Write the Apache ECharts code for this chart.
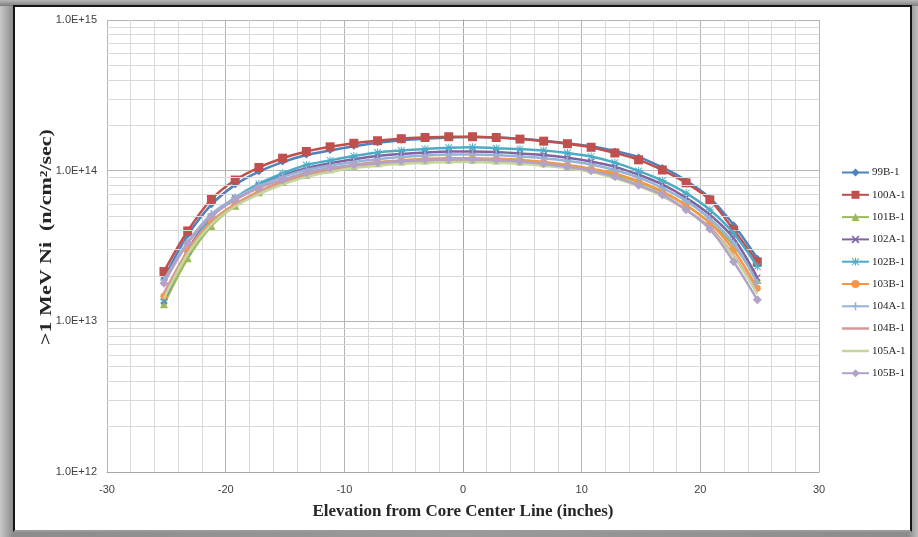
<!DOCTYPE html>
<html>
<head>
<meta charset="utf-8">
<title>Fast neutron flux vs elevation</title>
<script src="https://cdn.jsdelivr.net/npm/echarts@6/dist/echarts.min.js"></script>
<style>
  html, body { margin: 0; padding: 0; width: 918px; height: 537px; overflow: hidden; }
  #wrap { position: absolute; left: 0; top: 0; width: 918px; height: 537px;
    background: linear-gradient(to right, #c9c9c9 0px, #8c8c8c 13px, #9a9a9a 50%, #8c8c8c 908px, #bdbdbd 918px); }
  #topband { position: absolute; left: 0; top: 0; width: 918px; height: 6px;
    background: linear-gradient(to bottom, #b8b8b8, #7c7c7c); }
  #frame { position: absolute; left: 13px; top: 5px; width: 899px; height: 527px; box-sizing: border-box;
    background: #ffffff; border: 2px solid #151515; border-bottom-color: #9a9a9a; }
  #chart { position: absolute; left: 0; top: 0; width: 918px; height: 537px; }
</style>
</head>
<body>
<div id="wrap"><div id="topband"></div><div id="frame"></div></div>
<div id="chart"></div>
<script>
// Elevation of each measurement point (inches from core center line)
var elevations = [-25.2, -23.2, -21.2, -19.2, -17.2, -15.2, -13.2, -11.2, -9.2, -7.2, -5.2, -3.2, -1.2,
                  0.8, 2.8, 4.8, 6.8, 8.8, 10.8, 12.8, 14.8, 16.8, 18.8, 20.8, 22.8, 24.8];

// >1 MeV flux in nickel, n/cm^2/sec, one array per capsule position
var flux99B1  = [1.93e13, 3.72e13, 5.95e13, 8.05e13, 9.85e13, 1.14e14, 1.27e14, 1.36e14, 1.45e14, 1.53e14, 1.59e14, 1.63e14, 1.66e14,
                 1.67e14, 1.66e14, 1.63e14, 1.58e14, 1.52e14, 1.45e14, 1.35e14, 1.23e14, 1.05e14, 8.6e13, 6.6e13, 4.37e13, 2.62e13];
var flux100A1 = [2.14e13, 3.98e13, 6.46e13, 8.67e13, 1.05e14, 1.21e14, 1.34e14, 1.44e14, 1.52e14, 1.58e14, 1.63e14, 1.66e14, 1.68e14,
                 1.68e14, 1.66e14, 1.62e14, 1.57e14, 1.51e14, 1.43e14, 1.31e14, 1.18e14, 1.01e14, 8.3e13, 6.4e13, 4.05e13, 2.48e13];
var flux101B1 = [1.30e13, 2.62e13, 4.3e13, 5.85e13, 7.2e13, 8.4e13, 9.4e13, 1.02e14, 1.08e14, 1.12e14, 1.15e14, 1.17e14, 1.18e14,
                 1.18e14, 1.17e14, 1.15e14, 1.12e14, 1.08e14, 1.02e14, 9.4e13, 8.4e13, 7.2e13, 5.9e13, 4.5e13, 3.2e13, 1.88e13];
var flux102A1 = [1.36e13, 2.95e13, 4.95e13, 6.55e13, 8.0e13, 9.3e13, 1.04e14, 1.12e14, 1.19e14, 1.25e14, 1.29e14, 1.32e14, 1.34e14,
                 1.34e14, 1.33e14, 1.30e14, 1.27e14, 1.22e14, 1.15e14, 1.06e14, 9.4e13, 8.1e13, 6.6e13, 5.1e13, 3.56e13, 1.95e13];
var flux102B1 = [1.39e13, 2.9e13, 4.9e13, 6.6e13, 8.2e13, 9.6e13, 1.09e14, 1.17e14, 1.25e14, 1.32e14, 1.36e14, 1.39e14, 1.42e14,
                 1.43e14, 1.41e14, 1.39e14, 1.36e14, 1.31e14, 1.24e14, 1.13e14, 9.95e13, 8.6e13, 7.1e13, 5.5e13, 3.84e13, 2.31e13];
var flux103B1 = [1.47e13, 2.95e13, 4.6e13, 6.0e13, 7.3e13, 8.5e13, 9.5e13, 1.03e14, 1.09e14, 1.14e14, 1.17e14, 1.20e14, 1.21e14,
                 1.21e14, 1.20e14, 1.18e14, 1.14e14, 1.09e14, 1.03e14, 9.6e13, 8.5e13, 7.3e13, 5.9e13, 4.5e13, 2.97e13, 1.66e13];
var flux104A1 = [1.88e13, 3.35e13, 5.15e13, 6.6e13, 7.9e13, 9.1e13, 1.01e14, 1.08e14, 1.14e14, 1.19e14, 1.23e14, 1.26e14, 1.28e14,
                 1.28e14, 1.27e14, 1.24e14, 1.21e14, 1.16e14, 1.10e14, 1.01e14, 9.0e13, 7.7e13, 6.3e13, 4.8e13, 3.3e13, 1.8e13];
var flux104B1 = [1.54e13, 2.9e13, 4.5e13, 5.9e13, 7.2e13, 8.3e13, 9.3e13, 1.0e14, 1.06e14, 1.10e14, 1.13e14, 1.15e14, 1.16e14,
                 1.16e14, 1.15e14, 1.13e14, 1.09e14, 1.05e14, 9.9e13, 9.0e13, 8.0e13, 6.8e13, 5.5e13, 4.2e13, 2.75e13, 1.57e13];
var flux105A1 = [1.42e13, 2.8e13, 4.4e13, 5.8e13, 7.0e13, 8.1e13, 9.1e13, 9.8e13, 1.04e14, 1.08e14, 1.11e14, 1.13e14, 1.14e14,
                 1.14e14, 1.13e14, 1.11e14, 1.08e14, 1.04e14, 9.8e13, 8.9e13, 7.9e13, 6.8e13, 5.5e13, 4.1e13, 2.7e13, 1.52e13];
var flux105B1 = [1.79e13, 3.3e13, 5.0e13, 6.4e13, 7.7e13, 8.7e13, 9.7e13, 1.04e14, 1.09e14, 1.13e14, 1.16e14, 1.18e14, 1.19e14,
                 1.19e14, 1.18e14, 1.15e14, 1.11e14, 1.06e14, 1.0e14, 9.1e13, 8.0e13, 6.9e13, 5.5e13, 4.1e13, 2.49e13, 1.39e13];

var seriesNames = ['99B-1', '100A-1', '101B-1', '102A-1', '102B-1', '103B-1', '104A-1', '104B-1', '105A-1', '105B-1'];
var seriesValues = [flux99B1, flux100A1, flux101B1, flux102A1, flux102B1, flux103B1, flux104A1, flux104B1, flux105A1, flux105B1];

// Axis ranges and titles
var xMin = -30, xMax = 30, xStep = 10;
var yMin = 1e12, yMax = 1e15;
var xTitle = 'Elevation from Core Center Line (inches)';
var yTitle = '>1 MeV Ni  (n/cm\u00B2/sec)';

// Marker glyphs
var PLUS = 'path://M4,0H6V4H10V6H6V10H4V6H0V4H4Z';
var CROSS = 'path://M1.4,0L10,8.6L8.6,10L0,1.4Z M8.6,0L10,1.4L1.4,10L0,8.6Z';
var STAR = 'path://M4.4,0H5.6V4.4H10V5.6H5.6V10H4.4V5.6H0V4.4H4.4Z M1.2,0.4L9.6,8.8L8.8,9.6L0.4,1.2Z M8.8,0.4L9.6,1.2L1.2,9.6L0.4,8.8Z';
// Plain line legend key (tiny anchor dots keep the bar thin after scaling)
var LINE_KEY = 'path://M0,0H0.01V0.01H0Z M0,3.7H28V6.3H0Z M0,10H0.01V9.99H0Z';

var styles = [
  { color: '#4F81BD', symbol: 'diamond', size: 7 },
  { color: '#C0504D', symbol: 'rect', size: 9 },
  { color: '#9BBB59', symbol: 'triangle', size: 8 },
  { color: '#8064A2', symbol: CROSS, size: 7 },
  { color: '#4BACC6', symbol: STAR, size: 8 },
  { color: '#F79646', symbol: 'circle', size: 7 },
  { color: '#95B3D7', symbol: PLUS, size: 8 },
  { color: '#D99694', symbol: 'none', size: 0 },
  { color: '#C3D69B', symbol: 'none', size: 0 },
  { color: '#B3A2C7', symbol: 'diamond', size: 9 }
];

var serifFont = '"Liberation Serif", "DejaVu Serif", serif';
var tickFont = '"Liberation Sans Narrow", "Liberation Sans", "DejaVu Sans Condensed", sans-serif';

// Logarithmic minor gridlines (2..9 within each decade)
var minorLogLines = [];
for (var e = 12; e < 15; e++) {
  for (var m = 2; m <= 9; m++) minorLogLines.push({ yAxis: m * Math.pow(10, e) });
}

var series = [{
  name: 'grid-minor',
  type: 'line',
  data: [],
  silent: true,
  z: 1,
  markLine: {
    silent: true,
    symbol: ['none', 'none'],
    label: { show: false },
    animation: false,
    lineStyle: { color: '#d9d9d9', width: 1, type: 'solid' },
    data: minorLogLines
  }
}];

var legendData = [];
seriesNames.forEach(function (name, i) {
  var st = styles[i];
  legendData.push(st.symbol === 'none' ? { name: name, icon: LINE_KEY } : { name: name });
  series.push({
    name: name,
    type: 'line',
    z: 3 + i,
    smooth: 0.35,
    data: elevations.map(function (x, k) { return [x, seriesValues[i][k]]; }),
    symbol: st.symbol,
    symbolSize: st.size,
    showSymbol: st.symbol !== 'none',
    lineStyle: { color: st.color, width: 2.5 },
    itemStyle: { color: st.color, borderWidth: 0 },
    emphasis: { disabled: true },
    animation: false
  });
});

var chart = echarts.init(document.getElementById('chart'), null, { renderer: 'canvas' });
chart.setOption({
  backgroundColor: 'transparent',
  animation: false,
  grid: { left: 107, right: 99, top: 20, bottom: 65, containLabel: false },
  // Vertical axis title, set in a tall condensed bold serif
  graphic: [{
    type: 'text',
    x: 47,
    y: 237,
    rotation: Math.PI / 2,
    scaleY: 0.73,
    silent: true,
    style: {
      text: yTitle,
      fontFamily: serifFont,
      fontSize: 22,
      fontWeight: 'bold',
      fill: '#262626',
      align: 'center',
      verticalAlign: 'middle'
    }
  }],
  legend: {
    orient: 'vertical',
    left: 841,
    top: 167,
    itemWidth: 27,
    itemHeight: 10,
    itemGap: 11.3,
    padding: 0,
    data: legendData,
    textStyle: { fontFamily: serifFont, fontSize: 11, color: '#262626', padding: [0, 0, 0, -2] }
  },
  xAxis: {
    type: 'value',
    min: xMin,
    max: xMax,
    interval: xStep,
    name: xTitle,
    nameLocation: 'middle',
    nameGap: 31,
    nameTextStyle: { fontFamily: serifFont, fontSize: 17, fontWeight: 'bold', color: '#262626' },
    axisLine: { show: true, lineStyle: { color: '#a6a6a6', width: 1 } },
    axisTick: { show: false },
    axisLabel: { fontFamily: tickFont, fontSize: 11, color: '#404040', margin: 12 },
    splitLine: { show: true, lineStyle: { color: '#b4b4b4', width: 1 } },
    minorTick: { show: false, splitNumber: 5 },
    minorSplitLine: { show: true, lineStyle: { color: '#d9d9d9', width: 1 } }
  },
  yAxis: {
    type: 'log',
    logBase: 10,
    min: yMin,
    max: yMax,
    axisLine: { show: true, lineStyle: { color: '#a6a6a6', width: 1 } },
    axisTick: { show: false },
    axisLabel: {
      fontFamily: tickFont, fontSize: 11, color: '#404040', margin: 10,
      formatter: function (v) { return '1.0E+' + Math.round(Math.log10(v)); }
    },
    splitLine: { show: true, lineStyle: { color: '#b4b4b4', width: 1 } }
  },
  series: series
});
</script>
</body>
</html>
